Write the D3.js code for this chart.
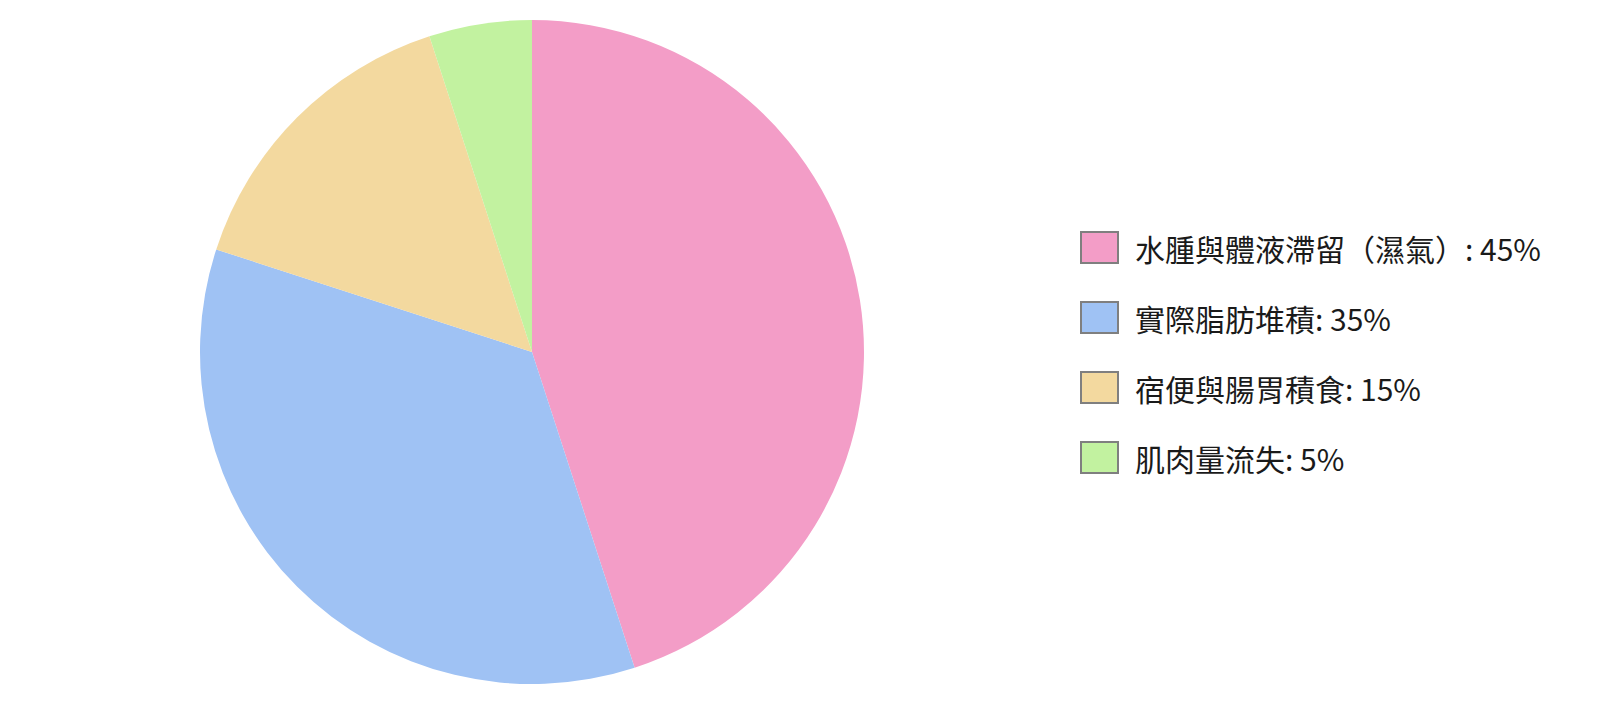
<!DOCTYPE html>
<html><head><meta charset="utf-8">
<script src="https://cdn.jsdelivr.net/npm/d3@7"></script>
<style>html,body{margin:0;padding:0;background:#fff;}svg{display:block;}</style>
</head><body>
<svg id="chart" width="1600" height="705"></svg>
<script>
const categories = ["水腫與體液滯留（濕氣）", "實際脂肪堆積", "宿便與腸胃積食", "肌肉量流失"];
const values = [45, 35, 15, 5];
const colors = ["#f39dc7", "#9fc2f4", "#f3d99f", "#c2f2a0"];

const svg = d3.select("#chart");
const cx = 532, cy = 352, r = 332;
const pie = d3.pie().sort(null).value(d => d.v);
const data = categories.map((c, i) => ({c, v: values[i], col: colors[i]}));
const arc = d3.arc().innerRadius(0).outerRadius(r);
const g = svg.append("g").attr("transform", `translate(${cx},${cy})`);
g.selectAll("path").data(pie(data)).join("path")
  .attr("d", arc).attr("fill", d => d.data.col);

const leg = svg.append("g").attr("transform", "translate(1081,232)");
const rows = leg.selectAll("g").data(data).join("g")
  .attr("transform", (d, i) => `translate(0,${i * 70})`);
rows.append("rect").attr("width", 37).attr("height", 31)
  .attr("fill", d => d.col).attr("stroke", "#7f7f7f").attr("stroke-width", 2);
rows.append("text").attr("x", 54).attr("y", 16)
  .attr("dominant-baseline", "central")
  .attr("font-family", "'Noto Sans CJK TC','Noto Sans CJK SC',sans-serif")
  .attr("font-size", 30).attr("fill", "#1a1a1a")
  .text(d => `${d.c}: ${d.v}%`);
</script>
</body></html>
